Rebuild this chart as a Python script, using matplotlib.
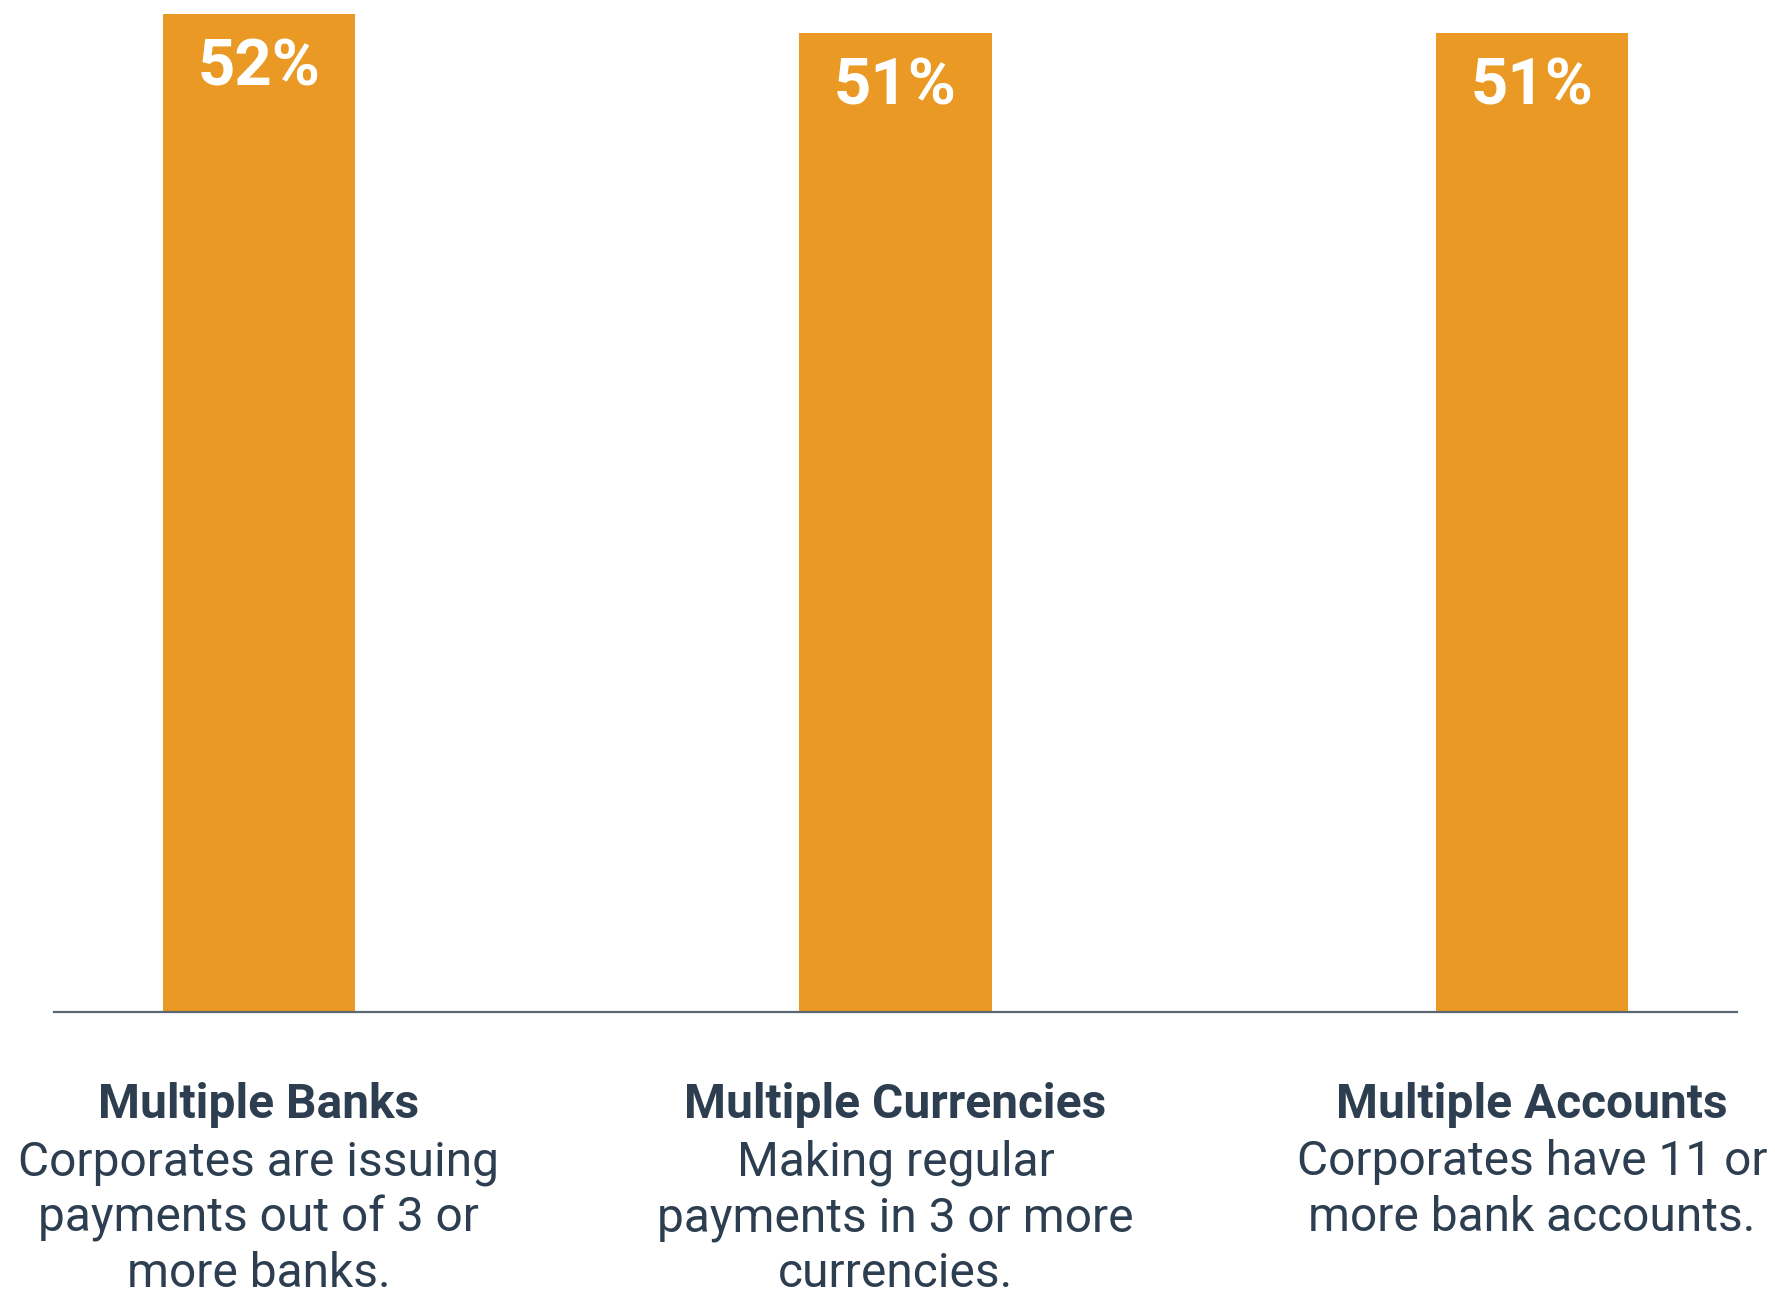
import matplotlib
matplotlib.use("Agg")
import matplotlib.pyplot as plt
from matplotlib.transforms import blended_transform_factory

plt.rcParams['font.family'] = ['Roboto', 'DejaVu Sans']

categories = ['Multiple Banks', 'Multiple Currencies', 'Multiple Accounts']
values = [52, 51, 51]
descriptions = [
    ['Corporates are issuing', 'payments out of 3 or', 'more banks.'],
    ['Making regular', 'payments in 3 or more', 'currencies.'],
    ['Corporates have 11 or', 'more bank accounts.'],
]

bar_color = '#EA9A24'
text_color = '#2D3E50'
W, H = 1775, 1297

fig = plt.figure(figsize=(W / 100, H / 100), dpi=100)
ax = fig.add_axes([54 / W, (H - 1012) / H, (1737 - 54) / W, 1012 / H])

x = list(range(len(categories)))
ax.bar(x, values, width=0.302, color=bar_color, zorder=2)
ax.set_xlim(-0.322, 2.322)
ax.set_ylim(0, 52.73)

for side in ['top', 'right', 'left']:
    ax.spines[side].set_visible(False)
ax.spines['bottom'].set_color('#5B6773')
ax.spines['bottom'].set_linewidth(1.6)
ax.set_xticks([])
ax.set_yticks([])

# value labels inside the top of each bar
for xi, v in zip(x, values):
    ax.annotate(f'{v}%', (xi, v), xytext=(0, -17), textcoords='offset points',
                ha='center', va='top', color='white', fontsize=47,
                fontweight='bold')

# category titles and descriptions under the axis
trans = blended_transform_factory(ax.transData, fig.transFigure)
for xi, cat, lines in zip(x, categories, descriptions):
    ax.text(xi, (H - 1118) / H, cat, transform=trans, ha='center',
            va='baseline', fontsize=34.5, fontweight='bold', color=text_color,
            clip_on=False)
    for k, line in enumerate(lines):
        ax.text(xi, (H - 1175 - 56 * k) / H, line, transform=trans,
                ha='center', va='baseline', fontsize=34.5, color=text_color,
                clip_on=False)

fig.savefig('out.png', dpi=100)
